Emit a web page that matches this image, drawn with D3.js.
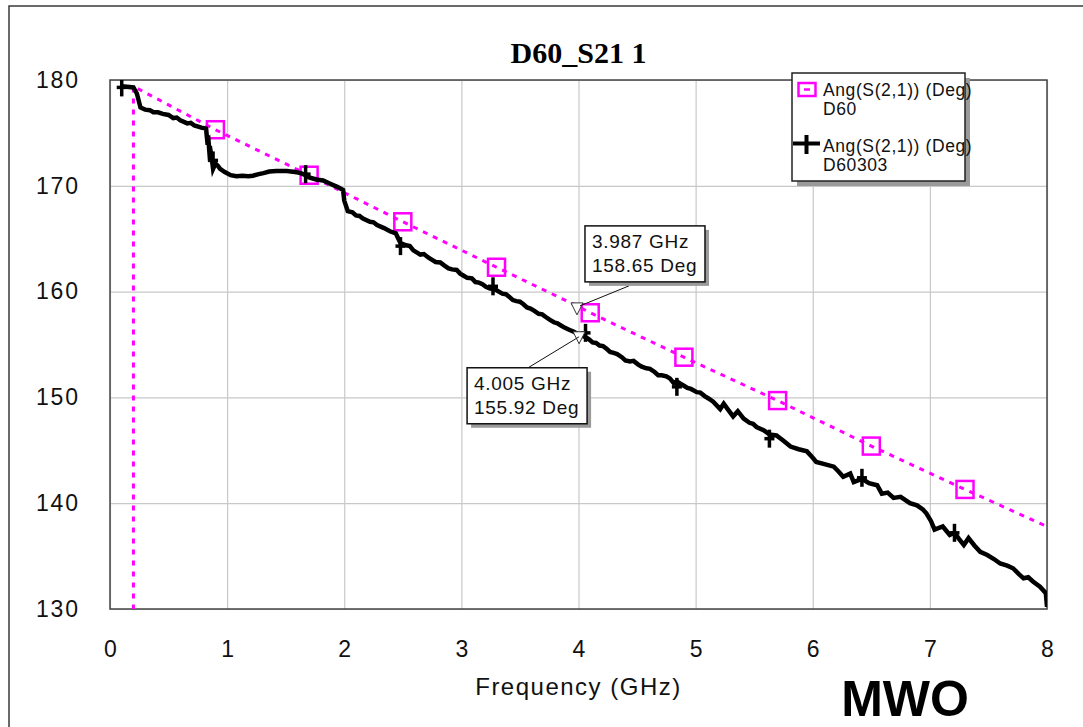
<!DOCTYPE html>
<html><head><meta charset="utf-8">
<script src="https://cdn.jsdelivr.net/npm/d3@7"></script>
<style>
body{margin:0;background:#fff;}
svg{display:block;}
</style></head><body>
<svg id="chart" width="1083" height="727"></svg>
<script>
// Axis ticks
const freqTicks = [0, 1, 2, 3, 4, 5, 6, 7, 8];
const degTicks = [130, 140, 150, 160, 170, 180];

// Trace D60: Ang(S(2,1)) in degrees vs frequency in GHz
const d60Freq = [0.2, 0.2, 0.9, 1.7, 2.5, 3.3, 3.987, 4.1, 4.9, 5.7, 6.5, 7.3, 8.0];
const d60Deg  = [0, 179.4, 175.3, 171.0, 166.6, 162.3, 158.65, 158.0, 153.8, 149.7, 145.4, 141.3, 137.8];
const d60MarkerFreq = [0.9, 1.7, 2.5, 3.3, 4.1, 4.9, 5.7, 6.5, 7.3];
const d60MarkerDeg  = [175.3, 171.0, 166.6, 162.3, 158.0, 153.8, 149.7, 145.4, 141.3];

// Trace D60303: Ang(S(2,1)) in degrees vs frequency in GHz
const d60303Freq = [0.10, 0.20, 0.23, 0.26, 0.30, 0.34, 0.37, 0.41, 0.45, 0.50, 0.54, 0.57, 0.60, 0.66, 0.69, 0.72, 0.78, 0.82,
  0.83, 0.84, 0.85, 0.86, 0.87, 0.88, 0.90, 0.92, 0.94, 0.98, 1.03, 1.08, 1.13, 1.18, 1.22, 1.27, 1.31, 1.36, 1.42, 1.51,
  1.58, 1.63, 1.67, 1.70, 1.76, 1.82, 1.88, 1.94, 1.99, 2.00, 2.03, 2.07, 2.10, 2.13, 2.16, 2.22, 2.25, 2.28, 2.34, 2.39,
  2.44, 2.48, 2.52, 2.56, 2.59, 2.65, 2.68, 2.72, 2.75, 2.78, 2.82, 2.85, 2.89, 2.92, 2.96, 2.99, 3.02, 3.05, 3.09, 3.12,
  3.15, 3.18, 3.21, 3.24, 3.29, 3.32, 3.35, 3.38, 3.41, 3.44, 3.47, 3.50, 3.53, 3.56, 3.59, 3.62, 3.66, 3.69, 3.72, 3.76,
  3.79, 3.82, 3.85, 3.88, 3.92, 3.96, 4.005, 4.06, 4.09, 4.12, 4.15, 4.18, 4.21, 4.24, 4.27, 4.30, 4.33, 4.37, 4.40, 4.44,
  4.47, 4.51, 4.54, 4.58, 4.61, 4.65, 4.68, 4.71, 4.75, 4.78, 4.81, 4.84, 4.87, 4.90, 4.93, 4.96, 5.01, 5.04, 5.08, 5.11,
  5.15, 5.21, 5.24, 5.28, 5.32, 5.36, 5.41, 5.46, 5.49,
  5.52, 5.58, 5.63, 5.69, 5.75, 5.81, 5.88, 5.95, 6.00, 6.03, 6.10, 6.18, 6.22, 6.26, 6.32, 6.35, 6.42,
  6.48, 6.55, 6.59, 6.64, 6.69, 6.75, 6.83, 6.89, 6.94, 6.97, 7.01, 7.04, 7.11, 7.17, 7.21, 7.25, 7.29,
  7.33, 7.38, 7.43, 7.49, 7.55, 7.60, 7.66, 7.71, 7.76, 7.80, 7.84, 7.88, 7.94, 7.99, 8.00];
const d60303Deg = [179.4, 179.3, 178.7, 177.4, 177.2, 177.15, 176.95, 176.95, 176.8, 176.7, 176.4, 176.45, 176.2, 175.9, 175.95, 175.7, 175.5, 175.4,
  174.3, 174.4, 173.0, 173.2, 172.5, 171.6, 172.1, 171.9, 171.6, 171.3, 171.0, 170.9, 170.95, 170.9, 170.95, 171.1, 171.2, 171.35, 171.4, 171.4,
  171.3, 171.2, 171.0, 170.8, 170.6, 170.5, 170.2, 169.9, 169.6, 168.6, 167.6, 167.5, 167.2, 167.15, 166.9, 166.6, 166.55, 166.3, 166.0, 165.7,
  165.5, 164.6, 164.4, 164.3, 163.9, 163.5, 163.55, 163.2, 163.0, 162.8, 162.75, 162.5, 162.2, 162.1, 162.05, 161.7, 161.5, 161.3, 161.25, 160.9,
  160.85, 160.7, 160.45, 160.3, 160.2, 160.0, 159.8, 159.75, 159.5, 159.2, 159.1, 159.05, 158.8, 158.5, 158.4, 158.2, 157.9, 157.85, 157.6, 157.3,
  157.1, 157.0, 156.8, 156.6, 156.4, 156.2, 155.92, 155.7, 155.5, 155.2, 155.15, 154.9, 154.85, 154.6, 154.3, 154.2, 154.1, 153.8, 153.5, 153.4,
  153.45, 153.1, 152.9, 152.75, 152.7, 152.4, 152.1, 152.1, 152.0, 151.8, 151.4, 151.5, 151.3, 151.1, 150.9, 150.8, 150.5, 150.45, 150.1, 149.9,
  149.6, 148.9, 149.4, 148.8, 148.2, 148.7, 148.0, 147.6, 147.5,
  147.2, 146.9, 146.5, 146.4, 145.9, 145.35, 145.1, 144.9, 144.3, 143.9, 143.7, 143.45, 143.0, 142.5, 142.8, 142.0, 142.3,
  141.9, 141.7, 140.9, 141.0, 140.5, 140.6, 140.0, 139.8, 139.4, 139.05, 138.3, 137.5, 137.8, 137.0, 137.2, 136.6, 136.05,
  136.7, 136.0, 135.4, 135.1, 134.7, 134.3, 134.1, 133.85, 133.3, 132.9, 133.0, 132.6, 132.1, 131.5, 130.2];
const d60303MarkerFreq = [0.1, 0.88, 1.67, 2.48, 3.27, 4.06, 4.84, 5.63, 6.42, 7.21];
const d60303MarkerDeg  = [179.3, 172.4, 171.1, 164.3, 160.5, 156.1, 151.0, 146.1, 142.4, 137.2];

// Marker readouts
const readoutFreq = [3.987, 4.005];
const readoutDeg  = [158.65, 155.92];

const legendNames = ["Ang(S(2,1)) (Deg)", "Ang(S(2,1)) (Deg)"];
const legendSources = ["D60", "D60303"];

const MAGENTA = "#ff00ff";
const svg = d3.select("#chart");
const plot = {left: 110, top: 80, right: 1047, bottom: 609};
const W = plot.right - plot.left, H = plot.bottom - plot.top;

const x = d3.scaleLinear().domain([0, 8]).range([plot.left, plot.right]);
const y = d3.scaleLinear().domain([130, 180]).range([plot.bottom, plot.top]);

const sans = "'Liberation Sans', Arial, sans-serif";

// outer frame
svg.append("rect").attr("x", 9).attr("y", 6).attr("width", 1200).attr("height", 900)
  .attr("fill", "none").attr("stroke", "#3a3a3a").attr("stroke-width", 1.5);

// title
svg.append("text").attr("x", (plot.left + plot.right) / 2).attr("y", 63)
  .attr("text-anchor", "middle").attr("font-family", "'Liberation Serif', 'Times New Roman', serif")
  .attr("font-weight", "bold").attr("font-size", 30).text("D60_S21 1");

// grid + tick labels
const ls = 1.8;
const gx = svg.append("g").attr("transform", `translate(0,${plot.bottom})`)
  .call(d3.axisBottom(x).tickValues(freqTicks).tickFormat(d3.format("d"))
    .tickSizeInner(-H).tickSizeOuter(0).tickPadding(32));
const gy = svg.append("g").attr("transform", `translate(${plot.left},0)`)
  .call(d3.axisLeft(y).tickValues(degTicks).tickFormat(d3.format("d"))
    .tickSizeInner(-W).tickSizeOuter(0).tickPadding(32 - ls));
[gx, gy].forEach(g => {
  g.select(".domain").remove();
  g.selectAll(".tick line").attr("stroke", "#c8c8c8").attr("stroke-width", 1.2);
  g.selectAll(".tick text").attr("font-family", sans).attr("font-size", 23)
    .attr("fill", "#111").style("letter-spacing", ls + "px");
});
gx.selectAll(".tick text").attr("dx", ls / 2);

// plot frame
svg.append("rect").attr("x", plot.left).attr("y", plot.top).attr("width", W).attr("height", H)
  .attr("fill", "none").attr("stroke", "#444").attr("stroke-width", 1.5);

// x-axis title
svg.append("text").attr("x", (plot.left + plot.right) / 2).attr("y", 695)
  .attr("text-anchor", "middle").attr("font-family", sans).attr("font-size", 24)
  .style("letter-spacing", "1.5px").attr("fill", "#111").text("Frequency (GHz)");

// data
svg.append("clipPath").attr("id", "plotClip").append("rect")
  .attr("x", plot.left).attr("y", plot.top).attr("width", W).attr("height", H);
const data = svg.append("g").attr("clip-path", "url(#plotClip)");

const line = d3.line().x(d => x(d[0])).y(d => y(d[1]));
const d60 = d3.zip(d60Freq, d60Deg);
const d60303 = d3.zip(d60303Freq, d60303Deg);

data.append("path").datum(d60).attr("d", line).attr("fill", "none")
  .attr("stroke", MAGENTA).attr("stroke-width", 3).attr("stroke-dasharray", "5,6");
data.selectAll("rect.sq").data(d3.zip(d60MarkerFreq, d60MarkerDeg)).join("rect")
  .attr("class", "sq").attr("x", d => x(d[0]) - 8.5).attr("y", d => y(d[1]) - 8.5)
  .attr("width", 17).attr("height", 17).attr("fill", "none")
  .attr("stroke", MAGENTA).attr("stroke-width", 2.5);

data.append("path").datum(d60303).attr("d", line).attr("fill", "none")
  .attr("stroke", "#000").attr("stroke-width", 4.5).attr("stroke-linejoin", "miter");
const plus = data.selectAll("g.plus").data(d3.zip(d60303MarkerFreq, d60303MarkerDeg)).join("g")
  .attr("class", "plus").attr("transform", d => `translate(${x(d[0])},${y(d[1])})`);
plus.append("line").attr("x1", 0).attr("x2", 0).attr("y1", -9).attr("y2", 9)
  .attr("stroke", "#000").attr("stroke-width", 3.5);
plus.append("line").attr("x1", -5).attr("x2", 5).attr("y1", 0).attr("y2", 0)
  .attr("stroke", "#000").attr("stroke-width", 3.5);

// marker readouts
const boxOffsets = [{dx: 8, dy: -80, lx: 52, ly: -20}, {dx: -112, dy: 33, lx: -51, ly: 33}];
readoutFreq.forEach((f, i) => {
  const px = x(f), py = y(readoutDeg[i]);
  const o = boxOffsets[i];
  svg.append("path")
    .attr("d", `M${px - 6},${py - 3}L${px + 6},${py - 3}L${px},${py + 9}Z`)
    .attr("fill", "#fff").attr("stroke", "#333").attr("stroke-width", 1);
  svg.append("line").attr("x1", px + (i === 0 ? 3 : 0)).attr("y1", py + (i === 0 ? 0 : 2))
    .attr("x2", px + o.lx).attr("y2", py + o.ly).attr("stroke", "#111").attr("stroke-width", 1);
  const bx = px + o.dx, by = py + o.dy, bw = 120, bh = 56;
  svg.append("rect").attr("x", bx + 4).attr("y", by + 4).attr("width", bw).attr("height", bh).attr("fill", "#9a9a9a");
  svg.append("rect").attr("x", bx).attr("y", by).attr("width", bw).attr("height", bh)
    .attr("fill", "#fff").attr("stroke", "#111").attr("stroke-width", 1.5);
  const t = svg.append("text").attr("font-family", sans).attr("font-size", 19)
    .style("letter-spacing", "0.7px").attr("fill", "#111");
  t.append("tspan").attr("x", bx + 7).attr("y", by + 22).text(d3.format(".3f")(f) + " GHz");
  t.append("tspan").attr("x", bx + 7).attr("y", by + 46).text(d3.format(".2f")(readoutDeg[i]) + " Deg");
});

// legend
const lg = svg.append("g");
lg.append("rect").attr("x", 797).attr("y", 78).attr("width", 173).attr("height", 108).attr("fill", "#9a9a9a");
lg.append("rect").attr("x", 792).attr("y", 73).attr("width", 173).attr("height", 108)
  .attr("fill", "#fff").attr("stroke", "#222").attr("stroke-width", 1.5);
// D60 icon
lg.append("rect").attr("x", 798.5).attr("y", 83).attr("width", 17).attr("height", 13)
  .attr("fill", "none").attr("stroke", MAGENTA).attr("stroke-width", 2.5);
lg.append("line").attr("x1", 804).attr("x2", 810).attr("y1", 89.5).attr("y2", 89.5)
  .attr("stroke", MAGENTA).attr("stroke-width", 2.5);
// D60303 icon
lg.append("line").attr("x1", 793).attr("x2", 820).attr("y1", 143.5).attr("y2", 143.5)
  .attr("stroke", "#000").attr("stroke-width", 4);
lg.append("line").attr("x1", 806.5).attr("x2", 806.5).attr("y1", 135).attr("y2", 154)
  .attr("stroke", "#000").attr("stroke-width", 4);
const legendY = [96, 151.5];
legendNames.forEach((n, i) => {
  const t = lg.append("text").attr("font-family", sans).attr("font-size", 17.5)
    .style("letter-spacing", "0.6px").attr("fill", "#111");
  t.append("tspan").attr("x", 823).attr("y", legendY[i]).text(n);
  t.append("tspan").attr("x", 823).attr("y", legendY[i] + 19).text(legendSources[i]);
});

// tool mark
svg.append("text").attr("x", 905).attr("y", 716).attr("text-anchor", "middle")
  .attr("font-family", sans).attr("font-weight", "bold").attr("font-size", 50).text("MWO");
</script>
</body></html>
